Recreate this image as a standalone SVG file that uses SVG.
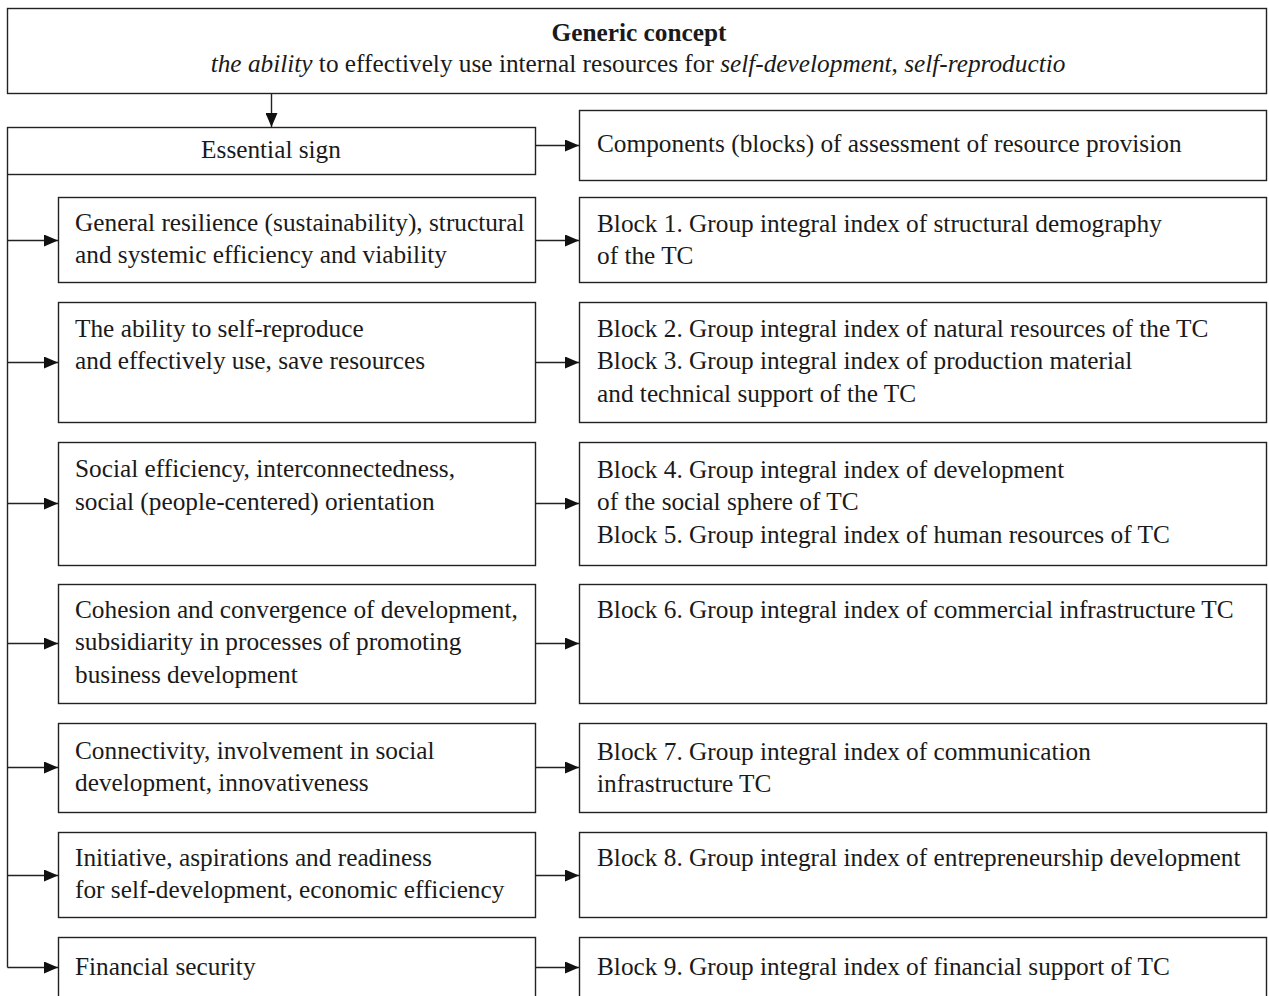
<svg xmlns="http://www.w3.org/2000/svg" width="1269" height="996" viewBox="0 0 1269 996">
<style>
rect.b{fill:#fff;stroke:#222;stroke-width:1.4}
text{font-family:"Liberation Serif","Times New Roman",serif;font-size:25.3px;fill:#1a1a1a}
.c line,.c path{stroke:#222;stroke-width:1.4;fill:none}
</style>
<defs>
<marker id="ah" markerWidth="14" markerHeight="12" refX="14" refY="6" orient="auto" markerUnits="userSpaceOnUse">
<path d="M0,0 L14,6 L0,12 Z" fill="#111"/>
</marker>
</defs>
<rect width="1269" height="996" fill="#fff"/>
<g id="generic">
<rect class="b" x="7.5" y="8.5" width="1259" height="85"/>
<text x="639" y="41" text-anchor="middle" font-weight="bold">Generic concept</text>
<text x="638" y="72" text-anchor="middle"><tspan font-style="italic">the ability</tspan> to effectively use internal resources for <tspan font-style="italic">self-development</tspan>, <tspan font-style="italic">self-reproductio</tspan></text>
</g>
<g id="essential">
<rect class="b" x="7.5" y="127.5" width="528" height="47"/>
<text x="271" y="158" text-anchor="middle">Essential sign</text>
</g>
<g id="components">
<rect class="b" x="579.5" y="110.5" width="687" height="70"/>
<text x="597" y="152">Components (blocks) of assessment of resource provision</text>
</g>
<g id="s1">
<rect class="b" x="58.5" y="197.5" width="477" height="85"/>
<text x="75" y="231">General resilience (sustainability), structural</text>
<text x="75" y="263">and systemic efficiency and viability</text>
</g>
<g id="b1">
<rect class="b" x="579.5" y="197.5" width="687" height="85"/>
<text x="597" y="232">Block 1. Group integral index of structural demography</text>
<text x="597" y="264">of the TC</text>
</g>
<g id="s2">
<rect class="b" x="58.5" y="302.5" width="477" height="120"/>
<text x="75" y="337">The ability to self-reproduce</text>
<text x="75" y="369">and effectively use, save resources</text>
</g>
<g id="b23">
<rect class="b" x="579.5" y="302.5" width="687" height="120"/>
<text x="597" y="337">Block 2. Group integral index of natural resources of the TC</text>
<text x="597" y="369">Block 3. Group integral index of production material</text>
<text x="597" y="402">and technical support of the TC</text>
</g>
<g id="s3">
<rect class="b" x="58.5" y="442.5" width="477" height="123"/>
<text x="75" y="477">Social efficiency, interconnectedness,</text>
<text x="75" y="510">social (people-centered) orientation</text>
</g>
<g id="b45">
<rect class="b" x="579.5" y="442.5" width="687" height="123"/>
<text x="597" y="478">Block 4. Group integral index of development</text>
<text x="597" y="510">of the social sphere of TC</text>
<text x="597" y="543">Block 5. Group integral index of human resources of TC</text>
</g>
<g id="s4">
<rect class="b" x="58.5" y="584.5" width="477" height="119"/>
<text x="75" y="618">Cohesion and convergence of development,</text>
<text x="75" y="650">subsidiarity in processes of promoting</text>
<text x="75" y="683">business development</text>
</g>
<g id="b6">
<rect class="b" x="579.5" y="584.5" width="687" height="119"/>
<text x="597" y="618">Block 6. Group integral index of commercial infrastructure TC</text>
</g>
<g id="s5">
<rect class="b" x="58.5" y="723.5" width="477" height="89"/>
<text x="75" y="759">Connectivity, involvement in social</text>
<text x="75" y="791">development, innovativeness</text>
</g>
<g id="b7">
<rect class="b" x="579.5" y="723.5" width="687" height="89"/>
<text x="597" y="760">Block 7. Group integral index of communication</text>
<text x="597" y="792">infrastructure TC</text>
</g>
<g id="s6">
<rect class="b" x="58.5" y="832.5" width="477" height="85"/>
<text x="75" y="866">Initiative, aspirations and readiness</text>
<text x="75" y="898">for self-development, economic efficiency</text>
</g>
<g id="b8">
<rect class="b" x="579.5" y="832.5" width="687" height="85"/>
<text x="597" y="866">Block 8. Group integral index of entrepreneurship development</text>
</g>
<g id="s7">
<rect class="b" x="58.5" y="937.5" width="477" height="70"/>
<text x="75" y="975">Financial security</text>
</g>
<g id="b9">
<rect class="b" x="579.5" y="937.5" width="687" height="70"/>
<text x="597" y="975">Block 9. Group integral index of financial support of TC</text>
</g>
<g class="c" id="connectors">
<line x1="271.5" y1="94" x2="271.5" y2="127" marker-end="url(#ah)"/>
<line x1="536" y1="145.5" x2="579" y2="145.5" marker-end="url(#ah)"/>
<path d="M7.5,175 V967.5"/>
<line x1="7.5" y1="240.5" x2="58" y2="240.5" marker-end="url(#ah)"/>
<line x1="7.5" y1="362.5" x2="58" y2="362.5" marker-end="url(#ah)"/>
<line x1="7.5" y1="503.5" x2="58" y2="503.5" marker-end="url(#ah)"/>
<line x1="7.5" y1="643.5" x2="58" y2="643.5" marker-end="url(#ah)"/>
<line x1="7.5" y1="767.5" x2="58" y2="767.5" marker-end="url(#ah)"/>
<line x1="7.5" y1="875.5" x2="58" y2="875.5" marker-end="url(#ah)"/>
<line x1="7.5" y1="967.5" x2="58" y2="967.5" marker-end="url(#ah)"/>
<line x1="536" y1="240.5" x2="579" y2="240.5" marker-end="url(#ah)"/>
<line x1="536" y1="362.5" x2="579" y2="362.5" marker-end="url(#ah)"/>
<line x1="536" y1="503.5" x2="579" y2="503.5" marker-end="url(#ah)"/>
<line x1="536" y1="643.5" x2="579" y2="643.5" marker-end="url(#ah)"/>
<line x1="536" y1="767.5" x2="579" y2="767.5" marker-end="url(#ah)"/>
<line x1="536" y1="875.5" x2="579" y2="875.5" marker-end="url(#ah)"/>
<line x1="536" y1="967.5" x2="579" y2="967.5" marker-end="url(#ah)"/>
</g>
</svg>
